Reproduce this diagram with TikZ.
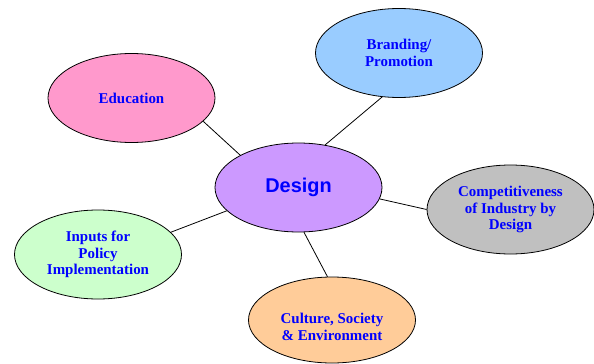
\documentclass[tikz,border=0pt]{standalone}
\usepackage{fontspec}
\setmainfont{Liberation Serif}
\newfontfamily\designfont{Liberation Sans}
\usepackage{tikz}
\usetikzlibrary{shapes}
\definecolor{lilac}{HTML}{CC99FF}
\definecolor{rose}{HTML}{FF99CC}
\definecolor{sky}{HTML}{99CCFF}
\definecolor{silver}{HTML}{C0C0C0}
\definecolor{mint}{HTML}{CCFFCC}
\definecolor{peach}{HTML}{FFCC99}
\newcommand{\lowered}[1]{\raisebox{-12bp}[0pt][0pt]{\begin{tabular}{@{}c@{}}#1\end{tabular}}}
\tikzset{
  topic/.style={draw,ellipse,line width=0.8pt,minimum width=167bp,minimum height=89bp,inner sep=0pt,
    align=center,text=blue,font=\fontsize{15}{16.7}\selectfont\bfseries},
  link/.style={line width=0.8pt}
}

\begin{document}
\begin{tikzpicture}
\useasboundingbox (0bp,0bp) rectangle (594bp,-364bp);

\node (D) at (298.5bp,-187.5bp)[topic,fill=lilac,font=\designfont\fontsize{20}{24}\selectfont\bfseries] {Design};
\node (E) at (131.5bp,-98bp)[topic,fill=rose] {Education};
\node (B) at (399bp,-53bp)[topic,fill=sky] {Branding/\\Promotion};
\node (C) at (510.5bp,-209.5bp)[topic,fill=silver] {Competitiveness\\of Industry by\\Design};
\node (I) at (98bp,-254.5bp)[topic,fill=mint] {Inputs for\\Policy\\Implementation};
\node (S) at (332bp,-320bp)[topic,minimum height=86bp,fill=peach] {\lowered{Culture, Society\\\& Environment}};
\draw [link] (D.151) -- (E.-18);
\draw [link] (D.58) -- (B.-111);
\draw [link] (D.-8) -- (C.180);
\draw [link] (D.198) -- (I.17);
\draw [link] (D.-83) -- (S.96);
\end{tikzpicture}
\end{document}
